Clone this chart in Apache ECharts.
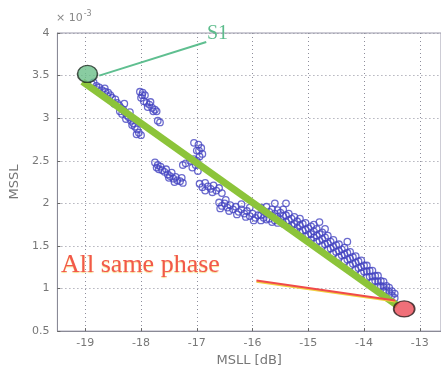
<!DOCTYPE html>
<html>
<head>
<meta charset="utf-8">
<style>html,body{margin:0;padding:0;background:#fff;}#c{width:441px;height:372px;}</style>
<script src="https://cdn.jsdelivr.net/npm/echarts@6/dist/echarts.min.js"></script>
</head>
<body>
<div id="c"></div>
<script>
// Axis ranges / ticks (MSSL in units of 1e-3)
var xRange = [-19.5, -12.62];
var yRange = [0.5, 4];
var yTickStep = 0.5;

// Scatter clusters [MSLL dB, MSSL x1e-3]
var clusterA = [[-18.88,3.40],[-18.85,3.42],[-18.80,3.38],[-18.75,3.36],[-18.70,3.33],[-18.65,3.35],[-18.64,3.31],[-18.59,3.30],[-18.55,3.27],[-18.52,3.24],[-18.46,3.22],[-18.43,3.18],[-18.48,3.17],[-18.39,3.15],[-18.36,3.12],[-18.32,3.10],[-18.38,3.08],[-18.30,3.17],[-18.29,3.07],[-18.25,3.03],[-18.22,3.01],[-18.20,3.07],[-18.27,2.99],[-18.18,2.97],[-18.14,2.94],[-18.11,2.90],[-18.07,2.87],[-18.04,2.83],[-18.00,2.80],[-18.78,3.33],[-18.60,3.26],[-18.34,3.05],[-18.16,2.92],[-18.08,2.81]];
var clusterB = [[-18.02,3.31],[-17.97,3.30],[-17.93,3.27],[-18.00,3.24],[-17.95,3.20],[-17.90,3.18],[-17.85,3.16],[-17.80,3.12],[-17.75,3.10],[-17.88,3.13],[-17.72,3.08],[-17.70,2.97],[-17.66,2.95],[-17.98,3.27],[-17.83,3.19],[-17.78,3.08]];
var clusterC = [[-17.05,2.71],[-16.97,2.69],[-16.92,2.65],[-17.00,2.62],[-16.90,2.58],[-16.95,2.55],[-17.05,2.52],[-17.12,2.50],[-17.20,2.47],[-17.02,2.45],[-17.08,2.42],[-16.98,2.38],[-17.25,2.45],[-16.96,2.62],[-17.00,2.50]];
var clusterD = [[-17.75,2.48],[-17.70,2.45],[-17.72,2.42],[-17.65,2.43],[-17.62,2.39],[-17.58,2.37],[-17.55,2.40],[-17.52,2.34],[-17.48,2.32],[-17.45,2.36],[-17.42,2.29],[-17.38,2.31],[-17.35,2.27],[-17.30,2.26],[-17.27,2.30],[-17.25,2.24],[-17.68,2.40],[-17.50,2.30],[-17.40,2.25]];
var clusterE = [[-16.95,2.23],[-16.90,2.19],[-16.85,2.24],[-16.80,2.20],[-16.75,2.17],[-16.70,2.21],[-16.65,2.15],[-16.60,2.18],[-16.55,2.12],[-16.85,2.15],[-16.72,2.13]];
var clusterF = [[-16.60,2.01],[-16.55,1.97],[-16.50,2.00],[-16.45,1.95],[-16.40,1.98],[-16.35,1.93],[-16.30,1.96],[-16.25,1.90],[-16.20,1.93],[-16.15,1.88],[-16.10,1.91],[-16.05,1.85],[-16.00,1.88],[-15.95,1.83],[-15.90,1.86],
  [-16.58,1.94],[-16.42,1.91],[-16.28,1.87],[-16.12,1.84],[-15.98,1.80],[-16.48,2.04],[-16.20,1.99],[-16.05,1.95]];
var clusterG = [
  [-15.85,1.95],[-15.85,1.86],[-15.85,1.80],
  [-15.75,1.96],[-15.75,1.88],[-15.75,1.81],
  [-15.65,1.93],[-15.65,1.85],[-15.65,1.78],[-15.60,2.00],
  [-15.55,1.92],[-15.55,1.84],[-15.55,1.77],
  [-15.45,1.93],[-15.45,1.85],[-15.45,1.76],[-15.40,2.00],
  [-15.35,1.88],[-15.35,1.80],[-15.35,1.72],
  [-15.25,1.84],[-15.25,1.76],[-15.25,1.68],
  [-15.15,1.82],[-15.15,1.74],[-15.15,1.66],
  [-15.05,1.77],[-15.05,1.69],[-15.05,1.61],
  [-14.95,1.73],[-14.95,1.64],[-14.95,1.57],[-14.90,1.75],
  [-14.85,1.70],[-14.85,1.62],[-14.85,1.55],[-14.80,1.78],
  [-14.75,1.66],[-14.75,1.58],[-14.75,1.50],[-14.70,1.70],
  [-14.65,1.62],[-14.65,1.53],[-14.65,1.46],
  [-14.55,1.57],[-14.55,1.49],[-14.55,1.41],
  [-14.45,1.52],[-14.45,1.44],[-14.45,1.37],
  [-14.35,1.48],[-14.35,1.40],[-14.35,1.32],[-14.30,1.55],
  [-14.25,1.43],[-14.25,1.35],[-14.25,1.27],
  [-14.15,1.38],[-14.15,1.30],[-14.15,1.22],
  [-14.05,1.33],[-14.05,1.25],[-14.05,1.18],
  [-13.95,1.27],[-13.95,1.20],[-13.95,1.13],
  [-13.85,1.21],[-13.85,1.14],[-13.85,1.08],
  [-13.75,1.15],[-13.75,1.08],[-13.75,1.02],
  [-13.65,1.08],[-13.65,1.02],[-13.65,0.97],
  [-13.55,1.01],[-13.55,0.96],
  [-13.45,0.94],[-13.45,0.89]
];
var clusterG2 = [
  [-15.80,1.91],[-15.80,1.83],[-15.70,1.90],[-15.70,1.82],[-15.60,1.88],[-15.60,1.80],
  [-15.50,1.89],[-15.50,1.81],[-15.40,1.86],[-15.40,1.78],[-15.30,1.82],[-15.30,1.74],
  [-15.20,1.79],[-15.20,1.71],[-15.10,1.76],[-15.10,1.68],[-15.00,1.71],[-15.00,1.63],
  [-14.90,1.67],[-14.90,1.60],[-14.80,1.64],[-14.80,1.56],[-14.70,1.60],[-14.70,1.52],
  [-14.60,1.55],[-14.60,1.47],[-14.50,1.51],[-14.50,1.43],[-14.40,1.46],[-14.40,1.39],
  [-14.30,1.42],[-14.30,1.34],[-14.20,1.37],[-14.20,1.29],[-14.10,1.32],[-14.10,1.24],
  [-14.00,1.27],[-14.00,1.20],[-13.90,1.21],[-13.90,1.14],[-13.80,1.15],[-13.80,1.09],
  [-13.70,1.09],[-13.70,1.03],[-13.60,1.03],[-13.60,0.98],[-13.50,0.97],[-13.50,0.92]
];

// Annotation geometry (data coordinates)
var fitLine = [[-19.05,3.43],[-13.40,0.80]];
var s1Point = [[-18.96,3.52]];
var samePhasePoint = [[-13.28,0.76]];
var s1Pointer = [[-18.75,3.50],[-16.83,3.895]];
var phasePointer = [[-15.93,1.095],[-13.44,0.86]];
var phasePointerShade = [[-15.93,1.080],[-13.44,0.846]];

var allPoints = [].concat(clusterA, clusterB, clusterC, clusterD, clusterE, clusterF, clusterG, clusterG2);

var chart = echarts.init(document.getElementById('c'), null, {renderer: 'canvas'});
var gridDots = {show: true, lineStyle: {color: '#8e8e9c', width: 1, type: [1, 3]}};
chart.setOption({
  animation: false,
  backgroundColor: '#fff',
  grid: {left: 55, right: -1, top: 33, bottom: 39, show: true, borderColor: '#9a98aa', borderWidth: 1},
  xAxis: {
    type: 'value', min: xRange[0], max: xRange[1],
    name: 'MSLL [dB]', nameLocation: 'middle', nameGap: 22,
    nameTextStyle: {color: '#777', fontSize: 13, fontFamily: 'DejaVu Sans'},
    axisLine: {show: true, onZero: false, lineStyle: {color: '#8a8a96'}},
    axisTick: {show: true, inside: true, length: 3, lineStyle: {color: '#666'}},
    axisLabel: {color: '#777', fontSize: 11, fontFamily: 'DejaVu Sans', margin: 7, showMinLabel: false, showMaxLabel: false},
    splitLine: gridDots
  },
  yAxis: {
    type: 'value', min: yRange[0], max: yRange[1], interval: yTickStep,
    name: 'MSSL', nameLocation: 'middle', nameGap: 33, nameRotate: 90,
    nameTextStyle: {color: '#777', fontSize: 13, fontFamily: 'DejaVu Sans'},
    axisLine: {show: true, onZero: false, lineStyle: {color: '#8a8a96'}},
    axisTick: {show: true, inside: true, length: 3, lineStyle: {color: '#666'}},
    axisLabel: {color: '#777', fontSize: 11, fontFamily: 'DejaVu Sans', margin: 8},
    splitLine: gridDots
  },
  series: [
    {type: 'scatter', data: allPoints, symbol: 'circle', symbolSize: 6.5,
     itemStyle: {color: 'rgba(0,0,0,0)', borderColor: '#4646c2', borderWidth: 1.3}, z: 2},
    {type: 'line', data: fitLine, symbol: 'none', lineStyle: {color: '#8cc43a', width: 7}, z: 3},
    {type: 'line', data: s1Pointer, symbol: 'none', lineStyle: {color: '#5fbf90', width: 2}, z: 3},
    {type: 'line', data: phasePointerShade, symbol: 'none', lineStyle: {color: '#f0d040', width: 2}, z: 3},
    {type: 'line', data: phasePointer, symbol: 'none', lineStyle: {color: '#f04a4a', width: 2}, z: 4},
    {type: 'scatter', data: s1Point, symbol: 'circle', symbolSize: [20, 17],
     itemStyle: {color: '#6cbf8a', borderColor: '#1e2a22', borderWidth: 1.5}, z: 5},
    {type: 'scatter', data: samePhasePoint, symbol: 'circle', symbolSize: [21, 16],
     itemStyle: {color: '#ec4c58', borderColor: '#2a1a1a', borderWidth: 1.5}, z: 5}
  ],
  graphic: [
    {type: 'text', left: 56, top: 10, style: {
      text: '{a|× 10}{b|-3}', fill: '#888',
      rich: {a: {fontSize: 11, fontFamily: 'DejaVu Sans', fill: '#888'}, b: {fontSize: 8, fontFamily: 'DejaVu Sans', fill: '#888', verticalAlign: 'top', padding: [0,0,8,1]}}
    }},
    {type: 'text', left: 207, top: 24, style: {text: 'S1', fill: '#5cbc8c', fontSize: 20, fontFamily: 'Liberation Serif'}},
    {type: 'text', left: 61, top: 252, style: {text: 'All same phase', fill: '#f2584a', fontSize: 26, fontFamily: 'Liberation Serif', textShadowColor: 'rgba(240,200,60,0.6)', textShadowBlur: 1, textShadowOffsetY: 1}}
  ]
});
</script>
</body>
</html>
